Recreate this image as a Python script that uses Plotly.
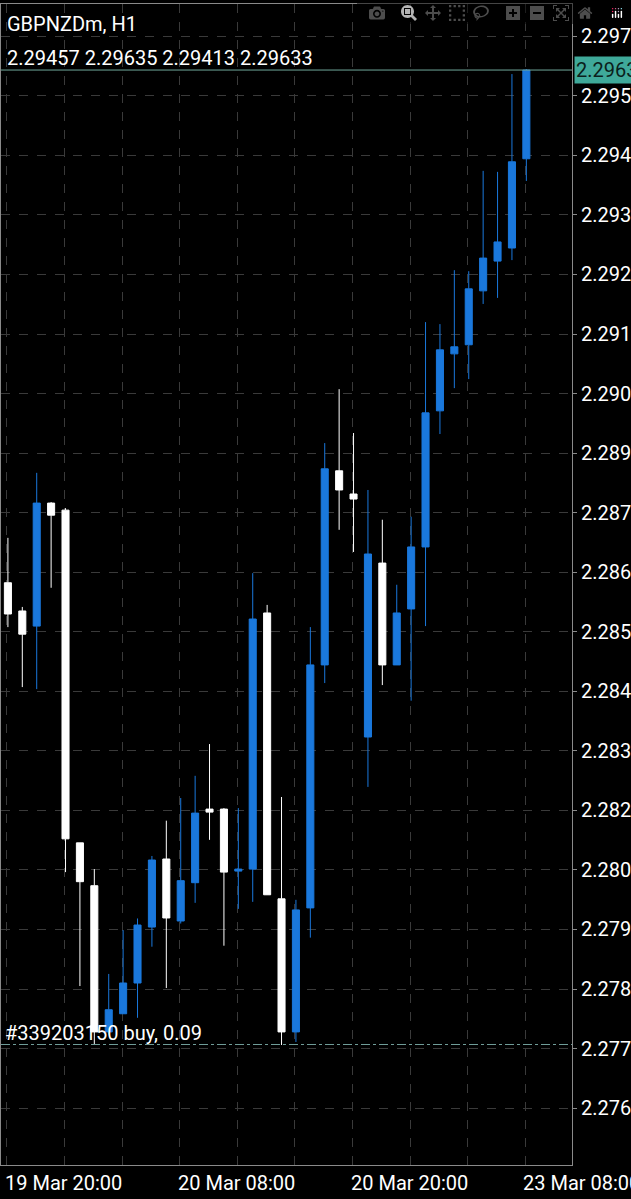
import plotly.graph_objects as go

idx = list(range(37))
opens  = [2.28616,2.28560,2.28530,2.28774,2.28760,2.28100,2.28015,2.27725,2.27761,2.27822,2.27933,2.28068,2.27945,2.28021,2.28167,2.28167,2.28044,2.28048,2.28556,2.27989,2.27725,2.27971,2.28453,2.28838,2.28792,2.28310,2.28655,2.28453,2.28564,2.28687,2.28957,2.29070,2.29088,2.29195,2.29254,2.29280,2.29457]
highs  = [2.28705,2.28568,2.28834,2.28776,2.28764,2.28100,2.28048,2.27840,2.27927,2.27950,2.28074,2.28144,2.28189,2.28233,2.28296,2.28169,2.28169,2.28635,2.28572,2.28191,2.27987,2.28528,2.28893,2.29000,2.28913,2.28800,2.28741,2.28612,2.28747,2.29133,2.29129,2.29236,2.29234,2.29433,2.29431,2.29625,2.29635]
lows   = [2.28528,2.28409,2.28405,2.28606,2.28042,2.27816,2.27699,2.27720,2.27761,2.27753,2.27894,2.27812,2.27940,2.27981,2.28106,2.27896,2.27969,2.27983,2.27997,2.27699,2.27705,2.27912,2.28417,2.28721,2.28677,2.28211,2.28413,2.28453,2.28382,2.28530,2.28911,2.29002,2.29020,2.29169,2.29181,2.29256,2.29413]
closes = [2.28554,2.28514,2.28774,2.28750,2.28108,2.28023,2.27725,2.27769,2.27822,2.27937,2.28066,2.27951,2.28025,2.28159,2.28161,2.28042,2.28048,2.28544,2.27997,2.27725,2.27967,2.28453,2.28842,2.28800,2.28782,2.28673,2.28453,2.28556,2.28687,2.28953,2.29078,2.29084,2.29199,2.29260,2.29292,2.29451,2.29633]

time_labels = ["19 Mar 20:00", "20 Mar 08:00", "20 Mar 20:00", "23 Mar 08:00"]
time_label_idx = [0, 12, 24, 36]
y_labels = ["2.297","2.295","2.294","2.293","2.292","2.291","2.290","2.289","2.287","2.286",
            "2.285","2.284","2.283","2.282","2.280","2.279","2.278","2.277","2.276"]
y_top_tick = 2.29700
y_step = 0.0011812
last_price = 2.29633
buy_price = 2.27700
title = "GBPNZDm, H1"
ohlc_text = "2.29457 2.29635 2.29413 2.29633"
order_text = "#339203150 buy, 0.09"

BLUE = "#1a78dc"
FONT = "Roboto"
FS = 20

fig = go.Figure(go.Candlestick(
    x=idx, open=opens, high=highs, low=lows, close=closes,
    increasing=dict(line=dict(color=BLUE, width=1), fillcolor=BLUE),
    decreasing=dict(line=dict(color="#ffffff", width=1), fillcolor="#ffffff"),
    whiskerwidth=0, hoverinfo="skip", showlegend=False,
))

ytv = [y_top_tick - k * y_step for k in range(len(y_labels))]
xoff = -0.07
fig.update_layout(
    width=631, height=1199,
    margin=dict(l=0, r=56, t=4, b=34),
    paper_bgcolor="#000000", plot_bgcolor="#000000",
    font=dict(family=FONT, color="#ffffff", size=FS),
    xaxis=dict(range=[-0.48, 39.17], rangeslider=dict(visible=False),
               tickvals=[4 * k + xoff for k in range(10)], showticklabels=False,
               showgrid=True, gridcolor="#3a3a3a", griddash="dash", gridwidth=1,
               zeroline=False, showline=True, linecolor="#8a8a8a", mirror=True,
               fixedrange=True),
    yaxis=dict(range=[2.27461, 2.29764], side="right", tickvals=ytv, ticktext=y_labels,
               showgrid=True, gridcolor="#3a3a3a", griddash="dash", gridwidth=1,
               zeroline=False, showline=True, linecolor="#8a8a8a", mirror=True,
               ticks="outside", ticklen=4, tickcolor="#8a8a8a",
               tickfont=dict(size=FS, color="#ffffff", family=FONT)),
)

fig.add_hline(y=last_price, line=dict(color="#6fa89a", width=1))
fig.add_hline(y=buy_price, line=dict(color="#6f9c98", width=1, dash="dashdot"))

fig.add_annotation(xref="paper", yref="y", x=1.0, y=last_price, xanchor="left", yanchor="middle",
                   text=f"{last_price:.5f}", showarrow=False, bgcolor="#3fa99a",
                   font=dict(size=FS, color="#0b1f1c", family=FONT), xshift=2, borderpad=1)
fig.add_annotation(xref="paper", yref="paper", x=0.0, y=1.0, xanchor="left", yanchor="top",
                   text=title, showarrow=False, xshift=4, yshift=-6, font=dict(size=FS, color="#ffffff"))
fig.add_annotation(xref="paper", yref="paper", x=0.0, y=1.0, xanchor="left", yanchor="top",
                   text=ohlc_text, showarrow=False, xshift=4, yshift=-40, font=dict(size=FS, color="#ffffff"))
fig.add_annotation(xref="paper", yref="y", x=0.0, y=buy_price, xanchor="left", yanchor="bottom",
                   text=order_text, showarrow=False, xshift=2, yshift=-2, font=dict(size=FS, color="#ffffff"))
for lbl, i in zip(time_labels, time_label_idx):
    fig.add_annotation(xref="x", yref="paper", x=i + xoff, y=0, xanchor="left", yanchor="top",
                       text=lbl, showarrow=False, yshift=-4, xshift=-4,
                       font=dict(size=FS, color="#ffffff"))

fig.write_html("out.html", post_script="document.body.style.margin='0';document.body.style.overflow='hidden';")
